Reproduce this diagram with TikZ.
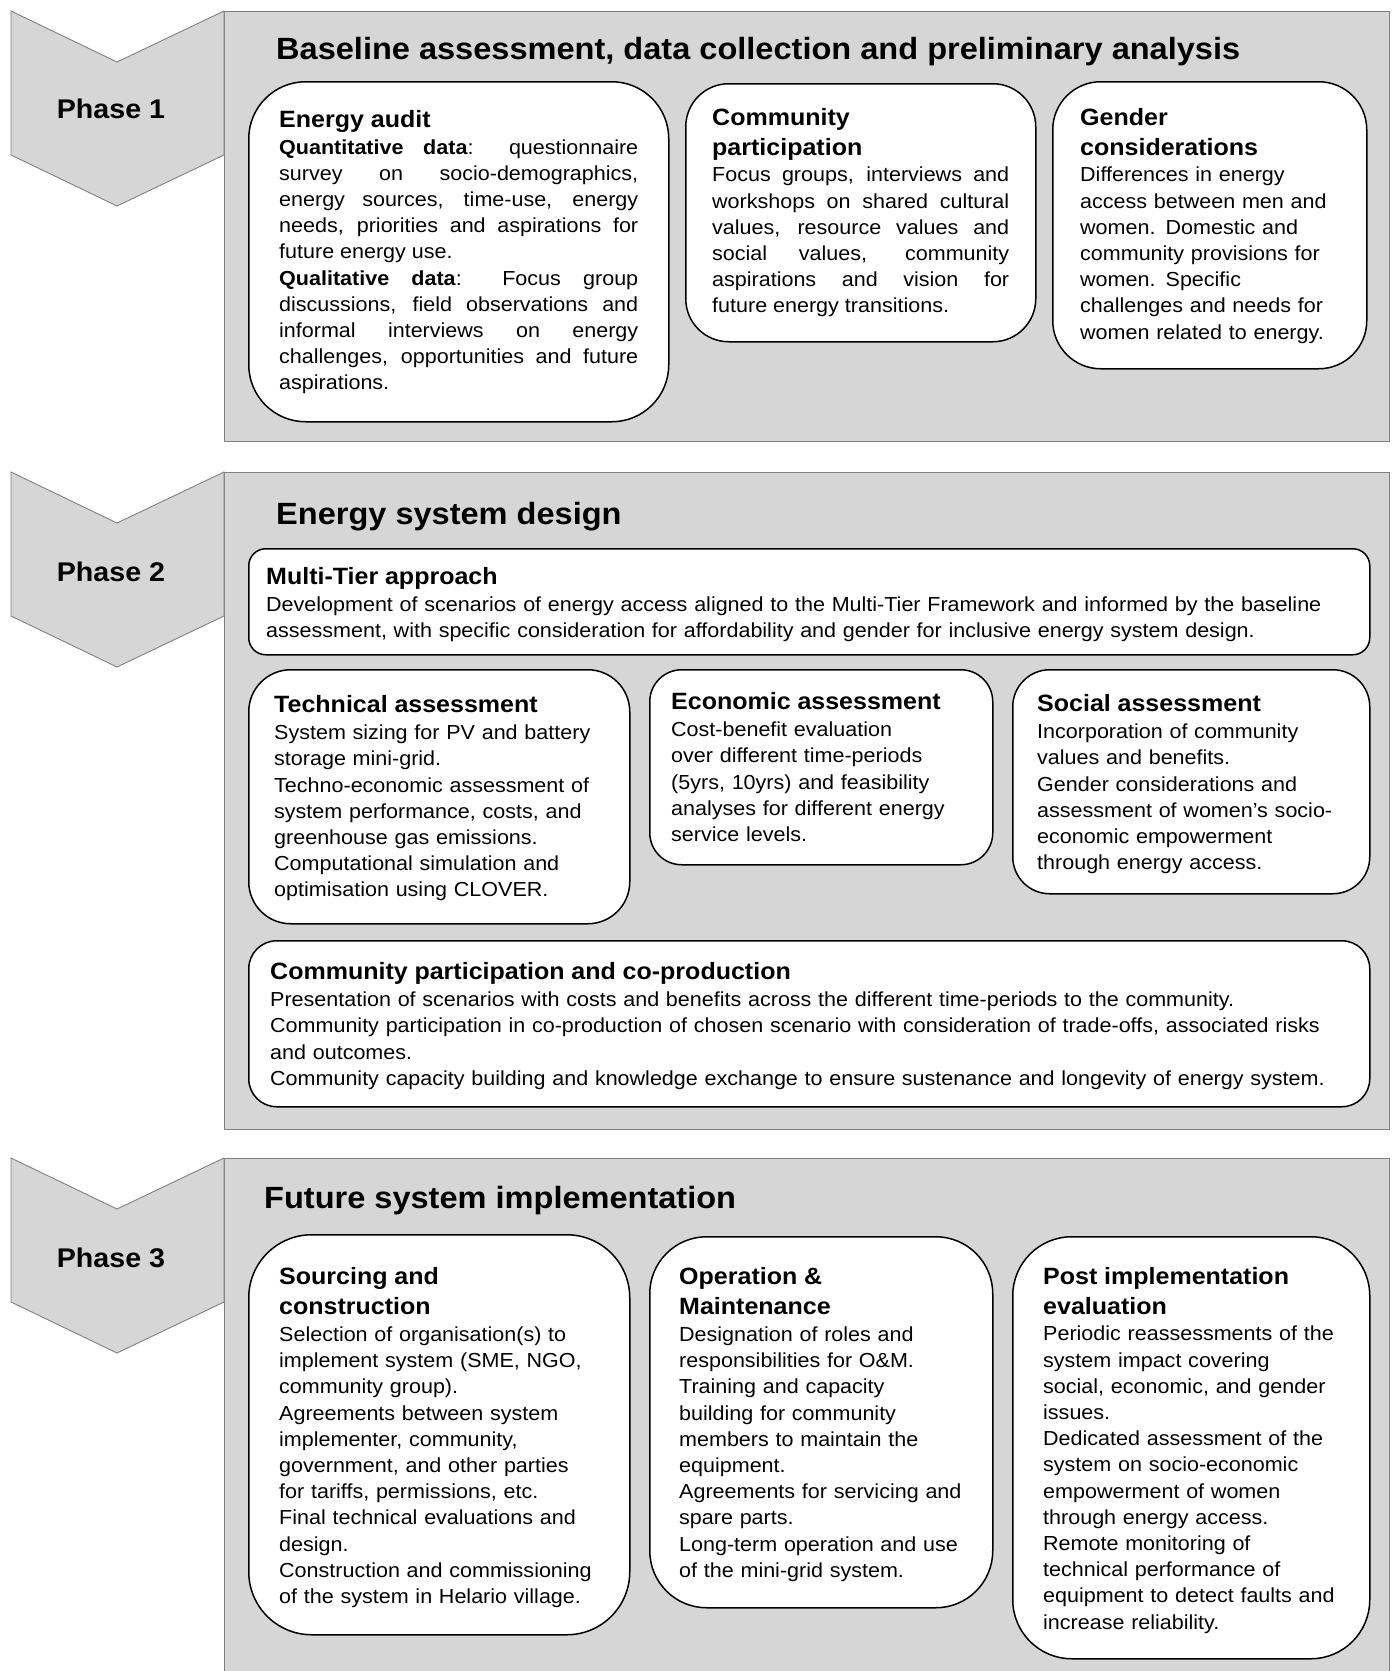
\documentclass[tikz,border=0pt]{standalone}
\usepackage{fontspec}
\setmainfont{Liberation Sans}[FakeStretch=1.06]
\usetikzlibrary{positioning}
\definecolor{panelgray}{HTML}{D6D6D6}
\definecolor{edgegray}{HTML}{808080}
\newcommand{\cardhead}[1]{{\fontsize{23.6}{29.8}\selectfont\bfseries #1\par}\vspace{0.6pt}}

\begin{document}
\begin{tikzpicture}[x=1pt, y=-1pt,
    panel/.style={draw=edgegray, line width=1.2pt, fill=panelgray, anchor=north west, inner sep=0pt},
    chev/.style={draw=edgegray, line width=0.9pt, fill=panelgray},
    card/.style={draw=black, line width=1.5pt, fill=white, rounded corners=#1, anchor=north west, inner sep=0pt},
    txt/.style={anchor=north west, inner sep=0pt, align=left, font=\fontsize{20.3}{26.2}\selectfont},
    phasetitle/.style={anchor=base west, inner sep=0pt, font=\fontsize{30.7}{36}\selectfont\bfseries},
    phaselabel/.style={anchor=base, inner sep=0pt, font=\fontsize{27}{32}\selectfont\bfseries}]
    \useasboundingbox (0,0) rectangle (1394,1671);
    \clip (0,0) rectangle (1394,1671);

    \node[panel, minimum width=1165pt, minimum height=430pt] (panel1) at (224,11) {};
    \node[panel, minimum width=1165pt, minimum height=657pt] (panel2) at (224,472) {};
    \node[panel, minimum width=1165pt, minimum height=520pt] (panel3) at (224,1158) {};

    \draw[chev] (11,11) -- (117,62) -- (224,11) -- (224,155) -- (117,206) -- (11,155) -- cycle;
    \draw[chev] (11,472) -- (117,523) -- (224,472) -- (224,616) -- (117,667) -- (11,616) -- cycle;
    \draw[chev] (11,1158) -- (117,1209) -- (224,1158) -- (224,1302) -- (117,1353) -- (11,1302) -- cycle;

    \node[phaselabel] (phase1) at (111,118) {Phase 1};
    \node[phaselabel] (phase2) at (111,581.5) {Phase 2};
    \node[phaselabel] (phase3) at (111,1267) {Phase 3};

    \node[phasetitle] (title1) at (276,59) {Baseline assessment, data collection and preliminary analysis};
    \node[phasetitle] (title2) at (276,524) {Energy system design};
    \node[phasetitle] (title3) at (264,1208) {Future system implementation};

    % phase 1
    \node[card=57pt, minimum width=420pt, minimum height=340pt] (audit) at (248,81) {};
    \node[card=43pt, minimum width=350pt, minimum height=258pt] (partic) at (685,83) {};
    \node[card=48pt, minimum width=314pt, minimum height=287pt] (gender) at (1052,81) {};
    \node[txt, text width=359pt, align=justify] (audit-t) at (279,110) {\cardhead{Energy audit}
        \textbf{Quantitative data}: questionnaire\linebreak survey on socio-demographics,\linebreak
        energy sources, time-use, energy\linebreak needs, priorities and aspirations for\linebreak
        future energy use.\par
        \textbf{Qualitative data}: Focus group\linebreak discussions, field observations and\linebreak
        informal interviews on energy\linebreak challenges, opportunities and future\linebreak
        aspirations.};
    \node[txt, text width=297pt, align=justify] (partic-t) at (712,108) {\cardhead{Community\\participation}
        Focus groups, interviews and\linebreak workshops on shared cultural\linebreak
        values, resource values and\linebreak social values, community\linebreak
        aspirations and vision for\linebreak future energy transitions.};
    \node[txt, text width=280pt] (gender-t) at (1080,108) {\cardhead{Gender\\considerations}
        Differences in energy\\access between men and\\women. Domestic and\\
        community provisions for\\women. Specific\\challenges and needs for\\
        women related to energy.};

    % phase 2
    \node[card=17pt, minimum width=1121pt, minimum height=106pt] (tier) at (248,548) {};
    \node[card=42pt, minimum width=381pt, minimum height=254pt] (tech) at (248,669) {};
    \node[card=32pt, minimum width=343pt, minimum height=195pt] (econ) at (649,669) {};
    \node[card=37pt, minimum width=357pt, minimum height=224pt] (social) at (1012,669) {};
    \node[card=28pt, minimum width=1121pt, minimum height=166pt] (coprod) at (248,940) {};
    \node[txt, text width=1090pt] (tier-t) at (266,567) {\cardhead{Multi-Tier approach}
        Development of scenarios of energy access aligned to the Multi-Tier Framework and informed by the baseline\\
        assessment, with specific consideration for affordability and gender for inclusive energy system design.};
    \node[txt, text width=345pt] (tech-t) at (274,695.5) {\cardhead{Technical assessment}
        System sizing for PV and battery\\storage mini-grid.\\Techno-economic assessment of\\
        system performance, costs, and\\greenhouse gas emissions.\\Computational simulation and\\
        optimisation using CLOVER.};
    \node[txt, text width=310pt] (econ-t) at (671,692.5) {\cardhead{Economic assessment}
        Cost-benefit evaluation\\over different time-periods\\(5yrs, 10yrs) and feasibility\\
        analyses for different energy\\service levels.};
    \node[txt, text width=325pt] (social-t) at (1037,694.5) {\cardhead{Social assessment}
        Incorporation of community\\values and benefits.\\Gender considerations and\\
        assessment of women’s socio-\\economic empowerment\\through energy access.};
    \node[txt, text width=1090pt] (coprod-t) at (270,962.5) {\cardhead{Community participation and co-production}
        Presentation of scenarios with costs and benefits across the different time-periods to the community.\\
        Community participation in co-production of chosen scenario with consideration of trade-offs, associated risks\\
        and outcomes.\\
        Community capacity building and knowledge exchange to ensure sustenance and longevity of energy system.};

    % phase 3
    \node[card=63pt, minimum width=381pt, minimum height=400pt] (source) at (248,1234) {};
    \node[card=57pt, minimum width=343pt, minimum height=371pt] (operate) at (649,1236) {};
    \node[card=59pt, minimum width=357pt, minimum height=422pt] (post) at (1012,1236) {};
    \node[txt, text width=340pt] (source-t) at (279,1267.5) {\cardhead{Sourcing and\\construction}
        Selection of organisation(s) to\\implement system (SME, NGO,\\community group).\\
        Agreements between system\\implementer, community,\\government, and other parties\\
        for tariffs, permissions, etc.\\Final technical evaluations and\\design.\\
        Construction and commissioning\\of the system in Helario village.};
    \node[txt, text width=305pt] (operate-t) at (679,1267.5) {\cardhead{Operation \&\\Maintenance}
        Designation of roles and\\responsibilities for O\&M.\\Training and capacity\\
        building for community\\members to maintain the\\equipment.\\
        Agreements for servicing and\\spare parts.\\Long-term operation and use\\
        of the mini-grid system.};
    \node[txt, text width=320pt] (post-t) at (1043,1267) {\cardhead{Post implementation\\evaluation}
        Periodic reassessments of the\\system impact covering\\social, economic, and gender\\issues.\\
        Dedicated assessment of the\\system on socio-economic\\empowerment of women\\
        through energy access.\\Remote monitoring of\\technical performance of\\
        equipment to detect faults and\\increase reliability.};
\end{tikzpicture}
\end{document}
